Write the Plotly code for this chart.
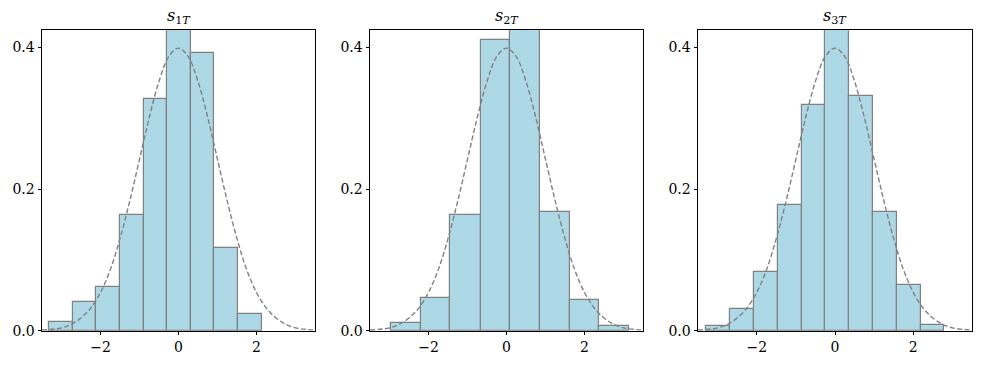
import plotly.graph_objects as go

# bin edges and densities
edges_1 = [-3.33, -2.71, -2.12, -1.505, -0.89, -0.30, 0.315, 0.905, 1.52, 2.135]
dens_1 = [0.012, 0.040, 0.062, 0.164, 0.327, 0.51, 0.392, 0.117, 0.023]

edges_2 = [-2.95, -2.19, -1.44, -0.66, 0.10, 0.85, 1.62, 2.37, 3.13]
dens_2 = [0.011, 0.046, 0.164, 0.410, 0.47, 0.168, 0.044, 0.007]

edges_3 = [-3.29, -2.69, -2.06, -1.45, -0.84, -0.25, 0.365, 0.98, 1.59, 2.20, 2.78]
dens_3 = [0.006, 0.030, 0.083, 0.178, 0.318, 0.46, 0.331, 0.168, 0.064, 0.008]

# dashed reference curve, read at 0.25 steps
curve_x = [-3.5, -3.25, -3.0, -2.75, -2.5, -2.25, -2.0, -1.75, -1.5, -1.25, -1.0,
           -0.75, -0.5, -0.25, 0.0, 0.25, 0.5, 0.75, 1.0, 1.25, 1.5, 1.75, 2.0,
           2.25, 2.5, 2.75, 3.0, 3.25, 3.5]
curve_y = [0.001, 0.002, 0.004, 0.009, 0.018, 0.032, 0.054, 0.086, 0.130, 0.183, 0.242,
           0.301, 0.352, 0.387, 0.399, 0.387, 0.352, 0.301, 0.242, 0.183, 0.130, 0.086, 0.054,
           0.032, 0.018, 0.009, 0.004, 0.002, 0.001]

titles = ["<i>s</i><sub>1<i>T</i></sub>", "<i>s</i><sub>2<i>T</i></sub>", "<i>s</i><sub>3<i>T</i></sub>"]
x_ticks = [-2, 0, 2]
x_tick_text = ["\u22122", "0", "2"]
y_ticks = [0.0, 0.2, 0.4]
y_tick_text = ["0.0", "0.2", "0.4"]

W, H = 981, 372
panels_px = [(42, 315), (370, 643), (698, 972)]
y_dom = [(372 - 338) / H, (372 - 30.7) / H]
font = "DejaVu Serif"

fig = go.Figure()
hists = [(edges_1, dens_1), (edges_2, dens_2), (edges_3, dens_3)]

for i, (edges, dens) in enumerate(hists):
    n = i + 1
    xa = "x" if n == 1 else f"x{n}"
    ya = "y" if n == 1 else f"y{n}"
    lefts = edges[:-1]
    widths = [b - a for a, b in zip(edges[:-1], edges[1:])]
    fig.add_trace(go.Bar(
        x=lefts, y=dens, width=widths, offset=0,
        marker=dict(color="#ADD8E6", line=dict(color="gray", width=1.2)),
        xaxis=xa, yaxis=ya, showlegend=False,
    ))
    fig.add_trace(go.Scatter(
        x=curve_x, y=curve_y, mode="lines", line_shape="spline",
        line=dict(color="gray", width=1.4, dash="5px,2.5px"),
        xaxis=xa, yaxis=ya, showlegend=False,
    ))

    x0, x1 = panels_px[i]
    axis_common = dict(
        showline=True, linecolor="black", linewidth=1, mirror=True,
        ticks="outside", ticklen=3.5, tickwidth=1, tickcolor="black",
        showgrid=False, zeroline=False,
        tickfont=dict(family=font, size=14, color="black"),
    )
    fig.layout[f"xaxis{n if n > 1 else ''}"] = dict(
        domain=[x0 / W, x1 / W], range=[-3.5, 3.5], anchor=ya,
        tickvals=x_ticks, ticktext=x_tick_text, **axis_common)
    fig.layout[f"yaxis{n if n > 1 else ''}"] = dict(
        domain=y_dom, range=[0, 0.4245], anchor=xa,
        tickvals=y_ticks, ticktext=y_tick_text, **axis_common)

    fig.add_annotation(
        text=titles[i], x=(x0 + x1) / 2 / W, y=(372 - 17) / H,
        xref="paper", yref="paper", showarrow=False,
        xanchor="center", yanchor="middle",
        font=dict(family=font, size=16, color="black"),
    )

fig.update_layout(
    width=W, height=H,
    margin=dict(l=0, r=0, t=0, b=0),
    paper_bgcolor="white", plot_bgcolor="white",
    font=dict(family=font, color="black"),
    bargap=0,
)

fig.write_html("out.html", config={"displayModeBar": False},
               post_script="document.body.style.margin='0';")
